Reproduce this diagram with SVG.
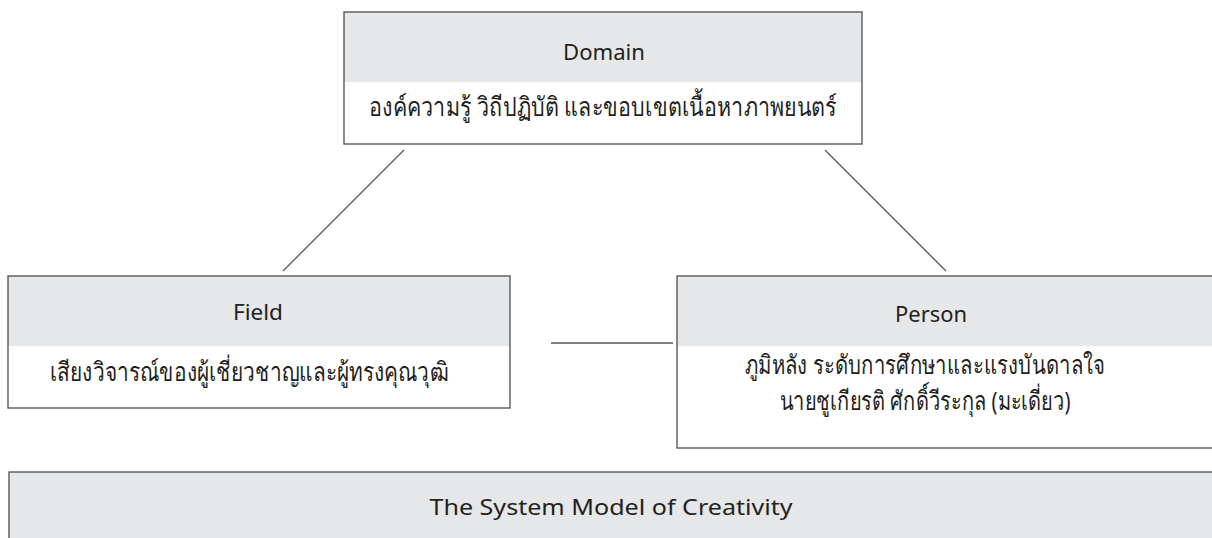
<svg xmlns="http://www.w3.org/2000/svg" width="1212" height="538" viewBox="0 0 1212 538">
<style>
.hdr{fill:#e6e7e8;stroke:none}
.box{fill:none;stroke:#58595b;stroke-width:1.4}
.t{font-family:"Noto Sans","DejaVu Sans",sans-serif;fill:#231f20;text-anchor:middle}
.h{font-size:22px}
.b{font-size:26px}
.c{stroke:#58595b;stroke-width:1.3;fill:none}
</style>
<rect width="1212" height="538" fill="#ffffff"/>
<g id="connectors">
<line class="c" x1="404" y1="150" x2="283" y2="271"/>
<line class="c" x1="825" y1="150" x2="946" y2="271"/>
<line class="c" x1="551" y1="343" x2="673" y2="343"/>
</g>
<g id="domain">
<rect class="hdr" x="344" y="12" width="518" height="70"/>
<rect class="box" x="344" y="12" width="518" height="132"/>
<text class="t h" x="604" y="60" textLength="82" lengthAdjust="spacingAndGlyphs">Domain</text>
<text class="t b" x="603" y="116" textLength="468" lengthAdjust="spacingAndGlyphs">องค์ความรู้ วิถีปฏิบัติ และขอบเขตเนื้อหาภาพยนตร์</text>
</g>
<g id="field">
<rect class="hdr" x="8" y="276" width="502" height="70"/>
<rect class="box" x="8" y="276" width="502" height="132"/>
<text class="t h" x="258" y="320" textLength="50" lengthAdjust="spacingAndGlyphs">Field</text>
<text class="t b" x="249" y="381" textLength="398" lengthAdjust="spacingAndGlyphs">เสียงวิจารณ์ของผู้เชี่ยวชาญและผู้ทรงคุณวุฒิ</text>
</g>
<g id="person">
<rect class="hdr" x="677" y="276" width="545" height="70"/>
<rect class="box" x="677" y="276" width="545" height="172"/>
<text class="t h" x="931" y="322" textLength="72" lengthAdjust="spacingAndGlyphs">Person</text>
<text class="t b" x="925" y="374" textLength="360" lengthAdjust="spacingAndGlyphs">ภูมิหลัง ระดับการศึกษาและแรงบันดาลใจ</text>
<text class="t b" x="925" y="410" textLength="291" lengthAdjust="spacingAndGlyphs">นายชูเกียรติ ศักดิ์วีระกุล (มะเดี่ยว)</text>
</g>
<g id="system-model">
<rect class="hdr" x="9" y="472" width="1213" height="80"/>
<rect class="box" x="9" y="472" width="1213" height="80"/>
<text class="t h" x="611" y="515" textLength="363" lengthAdjust="spacingAndGlyphs">The System Model of Creativity</text>
</g>
</svg>
